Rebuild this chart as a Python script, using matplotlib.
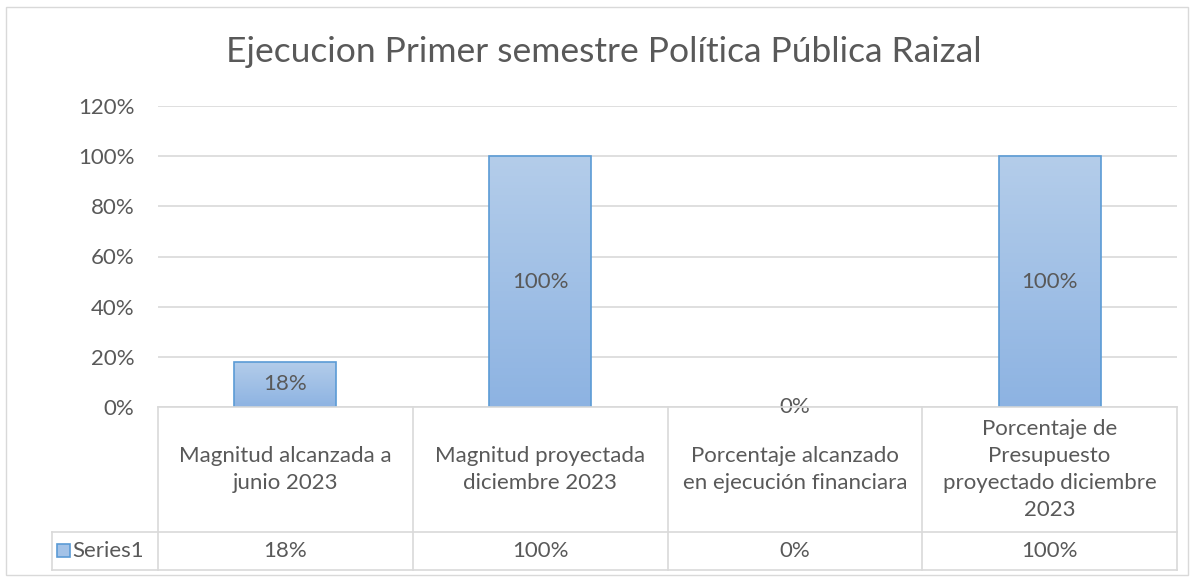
import numpy as np
import matplotlib
matplotlib.use("Agg")
import matplotlib.pyplot as plt
from matplotlib.lines import Line2D
from matplotlib.patches import Rectangle
from matplotlib.transforms import blended_transform_factory

# data
categories = ["Magnitud alcanzada a\njunio 2023",
              "Magnitud proyectada\ndiciembre 2023",
              "Porcentaje alcanzado\nen ejecución financiara",
              "Porcentaje de\nPresupuesto\nproyectado diciembre\n2023"]
values = [18, 100, 0, 100]
series_name = "Series1"
yticks = [0, 20, 40, 60, 80, 100, 120]
title = "Ejecucion Primer semestre Política Pública Raizal"

W, H = 1191, 577
plt.rcParams['font.family'] = ['Lato', 'DejaVu Sans']
txt = '#595959'
grid = '#d9d9d9'
edge = '#5b9bd5'
fs = 16

fig = plt.figure(figsize=(W / 100, H / 100), dpi=100)

def fx(px):
    return px / W

def fy(py):
    return 1 - py / H

# outer border
fig.add_artist(Rectangle((fx(6), fy(575)), fx(1188) - fx(6), fy(7) - fy(575),
                         transform=fig.transFigure, fill=False, edgecolor=grid, lw=1))

ax = fig.add_axes([fx(158), fy(407), fx(1177) - fx(158), fy(106) - fy(407)])
for s in ax.spines.values():
    s.set_visible(False)
ax.set_yticks(yticks)
ax.set_yticklabels([f"{v}%" for v in yticks], color=txt, fontsize=fs)
ax.tick_params(axis='y', length=0, pad=17)
ax.set_xticks([])
ax.yaxis.grid(True, color=grid, lw=1.2)
ax.set_axisbelow(True)

x = np.arange(len(categories))
bars = ax.bar(x, values, width=0.4, facecolor='none', edgecolor=edge, lw=1.2, zorder=3)
grad = np.linspace(0, 1, 256).reshape(-1, 1)
cmap = matplotlib.colors.LinearSegmentedColormap.from_list('g', ['#8db3e2', '#b4cdea'])
for b in bars:
    if b.get_height() <= 0:
        b.set_linewidth(0)
        continue
    im = ax.imshow(grad, cmap=cmap, origin='lower', aspect='auto', zorder=2,
                   extent=[b.get_x(), b.get_x() + b.get_width(), 0, b.get_height()])
    im.set_clip_path(b)
for xi, v in zip(x, values):
    ax.text(xi, v / 2, f"{v}%", ha='center', va='center', color=txt, fontsize=fs, zorder=4)
ax.set_ylim(0, 120)
ax.set_xlim(-0.5, len(categories) - 0.5)

# data table below
tr = blended_transform_factory(ax.transData, fig.transFigure)
top, mid, bot = fy(407), fy(532), fy(570)
left_leg = fx(52)
x_edges = [-0.5 + i for i in range(len(categories) + 1)]
lw = 1.2
fig.add_artist(Line2D([-0.5, len(categories) - 0.5], [top, top], transform=tr, color=grid, lw=lw))
fig.add_artist(Line2D([left_leg, fx(1177)], [mid, mid], transform=fig.transFigure, color=grid, lw=lw))
fig.add_artist(Line2D([left_leg, fx(1177)], [bot, bot], transform=fig.transFigure, color=grid, lw=lw))
fig.add_artist(Line2D([left_leg, left_leg], [mid, bot], transform=fig.transFigure, color=grid, lw=lw))
for xe in x_edges:
    fig.add_artist(Line2D([xe, xe], [top, bot], transform=tr, color=grid, lw=lw))
for xi, c, v in zip(x, categories, values):
    fig.text(xi, (top + mid) / 2, c, transform=tr, ha='center', va='center',
             color=txt, fontsize=fs, linespacing=1.45)
    fig.text(xi, (mid + bot) / 2, f"{v}%", transform=tr, ha='center', va='center',
             color=txt, fontsize=fs)
fig.add_artist(Rectangle((fx(57), fy(557)), fx(13), fy(544) - fy(557),
                         transform=fig.transFigure, facecolor='#a3c2e7', edgecolor=edge, lw=1.2))
fig.text(fx(72), (mid + bot) / 2, series_name, ha='left', va='center', color=txt, fontsize=fs)

fig.text(fx(604), fy(52), title, ha='center', va='center', color=txt, fontsize=25.5)

fig.savefig("out.png", dpi=100)
